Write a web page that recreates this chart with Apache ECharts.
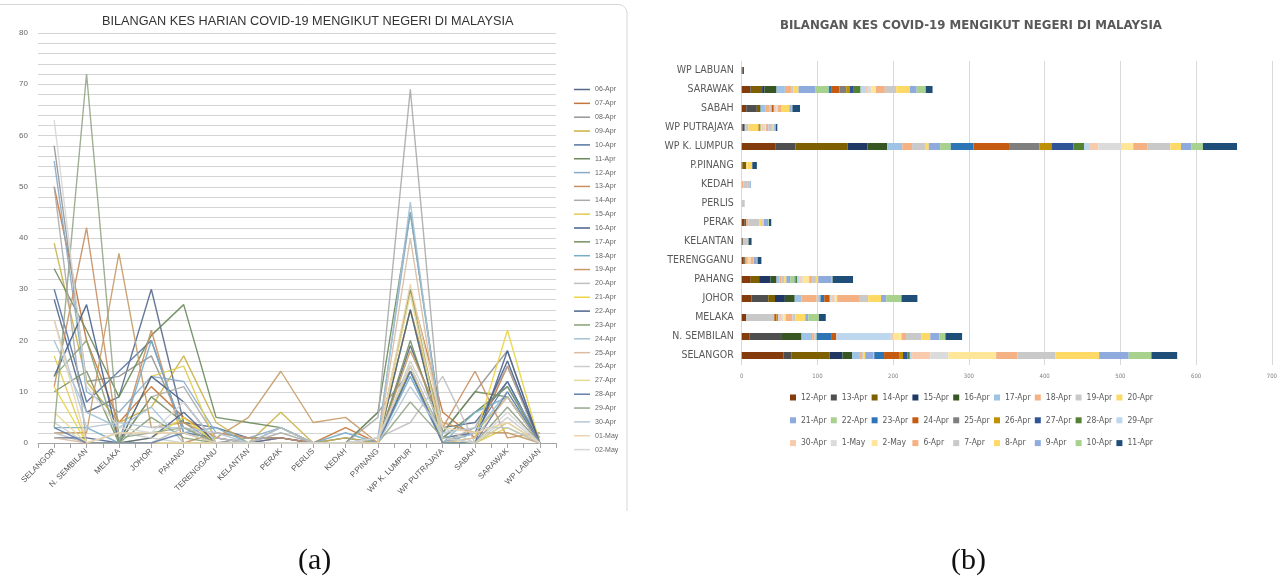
<!DOCTYPE html>
<html><head><meta charset="utf-8">
<script src="https://cdn.jsdelivr.net/npm/echarts@6/dist/echarts.min.js"></script>
<style>
html,body{margin:0;padding:0;background:#fff;}
#wrap{position:relative;width:1280px;height:583px;overflow:hidden;background:#fff;}
#ca{position:absolute;left:0;top:0;width:640px;height:583px;}
#cb{position:absolute;left:640px;top:0;width:640px;height:583px;}
</style></head>
<body><div id="wrap"><div id="ca"></div><div id="cb"></div></div>
<script>
// ---- categories ----
const states = ['SELANGOR','N. SEMBILAN','MELAKA','JOHOR','PAHANG','TERENGGANU','KELANTAN','PERAK','PERLIS','KEDAH','P.PINANG','WP K. LUMPUR','WP PUTRAJAYA','SABAH','SARAWAK','WP LABUAN'];
// ---- daily cases per state (same order as states) ----
const d06Apr = [28, 6, 9, 30, 4, 3, 1, 1, 0, 1, 0, 19, 3, 4, 12, 0];
const d07Apr = [50, 20, 4, 11, 5, 1, 0, 1, 0, 3, 0, 30, 6, 1, 15, 0];
const d08Apr = [58, 12, 13, 17, 3, 0, 1, 1, 0, 0, 6, 14, 2, 10, 18, 0];
const d09Apr = [39, 12, 4, 7, 17, 4, 0, 6, 0, 1, 0, 14, 1, 2, 9, 0];
const d10Apr = [30, 8, 14, 20, 2, 1, 0, 1, 0, 0, 0, 15, 1, 2, 12, 0];
const d11Apr = [34, 22, 9, 21, 27, 5, 4, 3, 0, 0, 6, 45, 2, 10, 9, 0];
const d12Apr = [55, 10, 6, 13, 12, 2, 1, 3, 0, 0, 1, 45, 1, 6, 11, 1];
const d13Apr = [11, 42, 0, 22, 0, 2, 1, 1, 0, 0, 0, 26, 3, 14, 1, 2];
const d14Apr = [50, 0, 0, 9, 11, 1, 0, 2, 0, 0, 5, 69, 0, 3, 15, 0];
const d15Apr = [17, 0, 0, 13, 15, 0, 0, 0, 0, 0, 0, 26, 0, 0, 3, 0];
const d16Apr = [13, 27, 0, 13, 8, 0, 0, 0, 0, 0, 0, 26, 0, 2, 16, 0];
const d17Apr = [10, 14, 0, 9, 4, 0, 0, 0, 0, 0, 0, 20, 1, 6, 11, 0];
const d18Apr = [3, 3, 0, 20, 2, 3, 0, 3, 0, 2, 0, 13, 0, 6, 9, 0];
const d19Apr = [2, 2, 37, 3, 4, 1, 5, 14, 4, 5, 0, 18, 4, 2, 2, 0];
const d20Apr = [2, 0, 0, 0, 3, 1, 0, 3, 0, 0, 1, 4, 13, 0, 7, 0];
const d21Apr = [11, 0, 0, 1, 5, 0, 0, 0, 0, 0, 0, 15, 0, 1, 22, 0];
const d22Apr = [1, 1, 0, 1, 6, 0, 0, 0, 0, 0, 0, 14, 0, 0, 18, 0];
const d23Apr = [13, 20, 0, 5, 1, 0, 0, 0, 0, 0, 0, 30, 0, 0, 4, 0];
const d24Apr = [20, 6, 3, 7, 0, 0, 0, 0, 0, 0, 0, 47, 0, 2, 10, 0];
const d25Apr = [1, 0, 0, 0, 0, 0, 0, 0, 0, 0, 0, 40, 0, 1, 9, 0];
const d26Apr = [4, 0, 2, 1, 0, 0, 0, 0, 0, 0, 0, 16, 3, 0, 5, 0];
const d27Apr = [6, 0, 0, 0, 0, 0, 0, 0, 0, 0, 0, 29, 0, 0, 4, 0];
const d28Apr = [3, 0, 0, 0, 2, 0, 0, 0, 0, 0, 0, 14, 0, 0, 10, 0];
const d29Apr = [3, 72, 1, 2, 3, 0, 0, 0, 0, 0, 0, 8, 1, 0, 7, 0];
const d30Apr = [24, 3, 4, 3, 3, 2, 0, 0, 0, 0, 0, 11, 2, 3, 3, 0];
const d01May = [24, 0, 2, 2, 2, 0, 0, 0, 0, 0, 0, 31, 3, 2, 4, 0];
const d02May = [63, 11, 3, 2, 8, 0, 0, 0, 0, 0, 1, 15, 1, 0, 6, 0];

// ---- chart (a): line series, legend labels and colours ----
const lineNames = ['06-Apr','07-Apr','08-Apr','09-Apr','10-Apr','11-Apr','12-Apr','13-Apr','14-Apr','15-Apr','16-Apr','17-Apr','18-Apr','19-Apr','20-Apr','21-Apr','22-Apr','23-Apr','24-Apr','25-Apr','26-Apr','27-Apr','28-Apr','29-Apr','30-Apr','01-May','02-May'];
const lineData = [d06Apr,d07Apr,d08Apr,d09Apr,d10Apr,d11Apr,d12Apr,d13Apr,d14Apr,d15Apr,d16Apr,d17Apr,d18Apr,d19Apr,d20Apr,d21Apr,d22Apr,d23Apr,d24Apr,d25Apr,d26Apr,d27Apr,d28Apr,d29Apr,d30Apr,d01May,d02May];
const lineColors = ['#56698a','#c5763a','#959595','#cbb246','#5473a5','#6a895c','#88abc9','#c98f62','#ababab','#e0cc50','#46608c','#778f60','#78adc8','#c79b66','#bfbfbf','#e9d545','#4e658c','#89a174','#a3c2d6','#d9bca2','#cccccc','#e8d993','#6380ab','#95a78a','#b6c6d5','#ecd5ae','#d6d6d6'];
const yTicksA = {min: 0, max: 80, step: 10};

// ---- chart (b): stacked bar series (legend order) ----
const barNames = ['12-Apr','13-Apr','14-Apr','15-Apr','16-Apr','17-Apr','18-Apr','19-Apr','20-Apr','21-Apr','22-Apr','23-Apr','24-Apr','25-Apr','26-Apr','27-Apr','28-Apr','29-Apr','30-Apr','1-May','2-May','6-Apr','7-Apr','8-Apr','9-Apr','10-Apr','11-Apr'];
const barData = [d12Apr,d13Apr,d14Apr,d15Apr,d16Apr,d17Apr,d18Apr,d19Apr,d20Apr,d21Apr,d22Apr,d23Apr,d24Apr,d25Apr,d26Apr,d27Apr,d28Apr,d29Apr,d30Apr,d01May,d02May,d06Apr,d07Apr,d08Apr,d09Apr,d10Apr,d11Apr];
const barColors = ['#843C0C','#4f4f4f','#7F6000','#1F3864','#375623','#9DC3E6','#F4B183','#C9C9C9','#FFD966','#8FAADC','#A9D18E','#2E75B6','#C55A11','#7F7F7F','#BF9000','#2F5597','#548235','#BDD7EE','#F8CBAD','#DBDBDB','#FFE699','#F4B183','#C9C9C9','#FFD966','#8FAADC','#A9D18E','#1F4E79'];
const xTicksB = {min: 0, max: 700, step: 100};

const narrow = '"Liberation Sans Narrow", "DejaVu Sans Condensed", "Liberation Sans", sans-serif';

// ================= chart (a) =================
const ca = echarts.init(document.getElementById('ca'));
ca.setOption({
  animation: false,
  title: {text: 'BILANGAN KES HARIAN COVID-19 MENGIKUT NEGERI DI MALAYSIA', left: 97, top: 10,
    textStyle: {fontFamily: '"Liberation Sans", Arial, sans-serif', fontSize: 12.7, fontWeight: 'normal', color: '#333'}},
  grid: {left: 38, top: 33, width: 518, height: 410},
  xAxis: [
    {type: 'category', data: states, boundaryGap: true,
     axisLine: {lineStyle: {color: '#a6a6a6'}}, axisTick: {show: false},
     axisLabel: {interval: 0, rotate: 45, fontSize: 8, color: '#595959', margin: 7, fontFamily: '"Liberation Sans", Arial, sans-serif'}},
    {type: 'category', data: new Array(states.length * 2).fill(''), boundaryGap: true, position: 'bottom',
     axisLine: {show: false}, axisLabel: {show: false},
     axisTick: {show: true, length: 5, lineStyle: {color: '#a6a6a6'}}}
  ],
  yAxis: {type: 'value', min: yTicksA.min, max: yTicksA.max, interval: yTicksA.step,
    axisLine: {show: false}, axisTick: {show: false},
    axisLabel: {fontSize: 8, color: '#666', margin: 10, fontFamily: '"Liberation Sans", Arial, sans-serif'},
    splitLine: {lineStyle: {color: '#d4d4d4'}},
    minorTick: {show: false, splitNumber: 5},
    minorSplitLine: {show: true, lineStyle: {color: '#d4d4d4'}}},
  legend: {orient: 'vertical', left: 569, top: 80, data: lineNames, icon: 'rect', itemWidth: 16, itemHeight: 1.5,
    itemGap: 4.85, textStyle: {fontSize: 7, color: '#666', lineHeight: 9, fontFamily: '"Liberation Sans", Arial, sans-serif'}},
  series: lineNames.map((n, i) => ({
    name: n, type: 'line', data: lineData[i], showSymbol: false, symbol: 'none',
    lineStyle: {width: 1.4, color: lineColors[i], opacity: 0.9}, itemStyle: {color: lineColors[i]}
  })),
  graphic: [
    {type: 'polyline', shape: {points: [[-2,4.5],[618,4.5],[622.5,5.5],[625.5,8],[627,12],[627,511]]},
     style: {stroke: '#d6d6d6', fill: null, lineWidth: 1}},
    {type: 'text', left: 298, top: 546, style: {text: '(a)', font: '30px "Liberation Serif", "Times New Roman", serif', fill: '#111'}}
  ]
});

// ================= chart (b) =================
const cb = echarts.init(document.getElementById('cb'));
cb.setOption({
  animation: false,
  title: {text: 'BILANGAN KES COVID-19 MENGIKUT NEGERI DI MALAYSIA', left: 135, top: 14,
    textStyle: {fontFamily: narrow, fontSize: 13.1, fontWeight: 'bold', color: '#595959'}},
  grid: {left: 101.7, top: 61, width: 531, height: 304},
  xAxis: {type: 'value', min: xTicksB.min, max: xTicksB.max, interval: xTicksB.step,
    axisLine: {show: false}, axisTick: {show: false},
    axisLabel: {fontSize: 6, color: '#7f7f7f', margin: 8, fontFamily: narrow},
    splitLine: {lineStyle: {color: '#d9d9d9'}}},
  yAxis: {type: 'category', data: states,
    axisLine: {show: false}, axisTick: {show: false},
    axisLabel: {fontSize: 10.5, color: '#595959', margin: 8, fontFamily: narrow}},
  legend: {data: barNames, left: 145, top: 383, width: 385, icon: 'rect', itemWidth: 6, itemHeight: 6, itemGap: 3.8,
    textStyle: {fontSize: 8.5, color: '#595959', width: 26, lineHeight: 19, fontFamily: narrow}},
  series: barNames.map((n, i) => ({
    name: n, type: 'bar', stack: 'total', barWidth: 7, data: barData[i],
    itemStyle: {color: barColors[i]}
  })),
  graphic: [
    {type: 'text', left: 311, top: 546, style: {text: '(b)', font: '30px "Liberation Serif", "Times New Roman", serif', fill: '#111'}}
  ]
});
</script></body></html>
